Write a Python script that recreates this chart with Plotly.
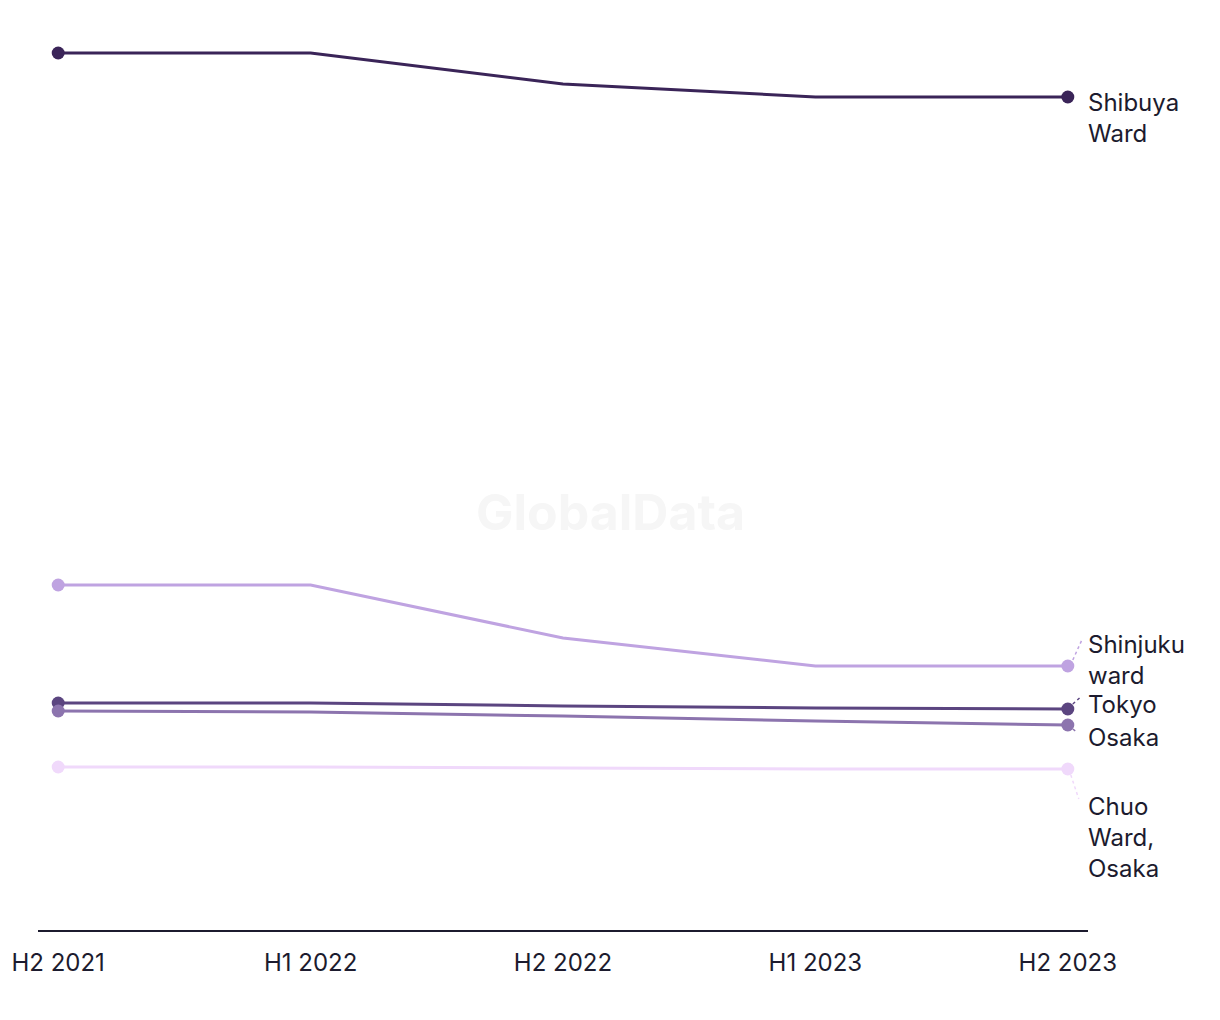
import plotly.graph_objects as go

periods = ["H2 2021", "H1 2022", "H2 2022", "H1 2023", "H2 2023"]
series_names = ["Shibuya Ward", "Shinjuku ward", "Tokyo", "Osaka", "Chuo Ward, Osaka"]
shibuya = [87.7, 87.7, 84.6, 83.3, 83.3]
shinjuku = [34.5, 34.5, 29.2, 26.4, 26.4]
tokyo = [22.7, 22.7, 22.4, 22.2, 22.1]
osaka = [21.9, 21.8, 21.4, 20.9, 20.5]
chuo = [16.3, 16.3, 16.2, 16.1, 16.1]
labels = ["Shibuya<br>Ward", "Shinjuku<br>ward", "Tokyo", "Osaka", "Chuo<br>Ward,<br>Osaka"]
colors = ["#3a2458", "#bfa3e1", "#5b4580", "#8c74ae", "#f0d9fb"]

all_values = [shibuya, shinjuku, tokyo, osaka, chuo]
# label placement (pixels): yshift for text block, leader line endpoints relative to last point
label_yshift = [-21, 6, 5, -12, -68]
leaders = [None, (5, 6, 14, 26), (5, 5, 14, 13), (5, -4, 9, -7), (3, -6, 11, -30)]

FONT = "Inter, Roboto, sans-serif"
TEXT = "#1c1b2e"

x = list(range(len(periods)))
fig = go.Figure()

for name, vals, col in zip(series_names, all_values, colors):
    fig.add_trace(go.Scatter(
        x=x, y=vals, mode="lines", name=name,
        line=dict(color=col, width=3), hoverinfo="skip", showlegend=False))
    fig.add_trace(go.Scatter(
        x=[x[0], x[-1]], y=[vals[0], vals[-1]], mode="markers",
        marker=dict(color=col, size=13), hoverinfo="skip", showlegend=False))

for lab, vals, col, ys, ld in zip(labels, all_values, colors, label_yshift, leaders):
    fig.add_annotation(x=x[-1], y=vals[-1], xref="x", yref="y", text=lab,
                       showarrow=False, xanchor="left", yanchor="middle", align="left",
                       xshift=18, yshift=ys, font=dict(family=FONT, size=24, color=TEXT))
    if ld:
        fig.add_shape(type="line", xref="x", yref="y",
                      xsizemode="pixel", ysizemode="pixel",
                      xanchor=x[-1], yanchor=vals[-1],
                      x0=ld[0], y0=ld[1], x1=ld[2], y1=ld[3],
                      line=dict(color=col, width=1.5, dash="dot"))

fig.add_annotation(x=0.5448, y=0.4697, xref="paper", yref="paper", text="<b>GlobalData</b>",
                   showarrow=False, font=dict(family=FONT, size=50, color="#f6f6f6"),
                   xanchor="center", yanchor="middle")

fig.update_layout(
    width=1220, height=1020,
    margin=dict(l=30, r=140, t=32, b=98, autoexpand=False),
    paper_bgcolor="white", plot_bgcolor="white",
    xaxis=dict(range=[-0.08, 4.08], tickmode="array", tickvals=x, ticktext=periods,
               showgrid=False, zeroline=False, showline=True, linecolor=TEXT, linewidth=2,
               ticks="", ticklabelstandoff=10, automargin=False,
               tickfont=dict(family=FONT, size=24, color=TEXT), fixedrange=True),
    yaxis=dict(range=[0, 89], visible=False, showgrid=False, zeroline=False,
               fixedrange=True, automargin=False),
    showlegend=False,
)

fig.write_html("out.html")
